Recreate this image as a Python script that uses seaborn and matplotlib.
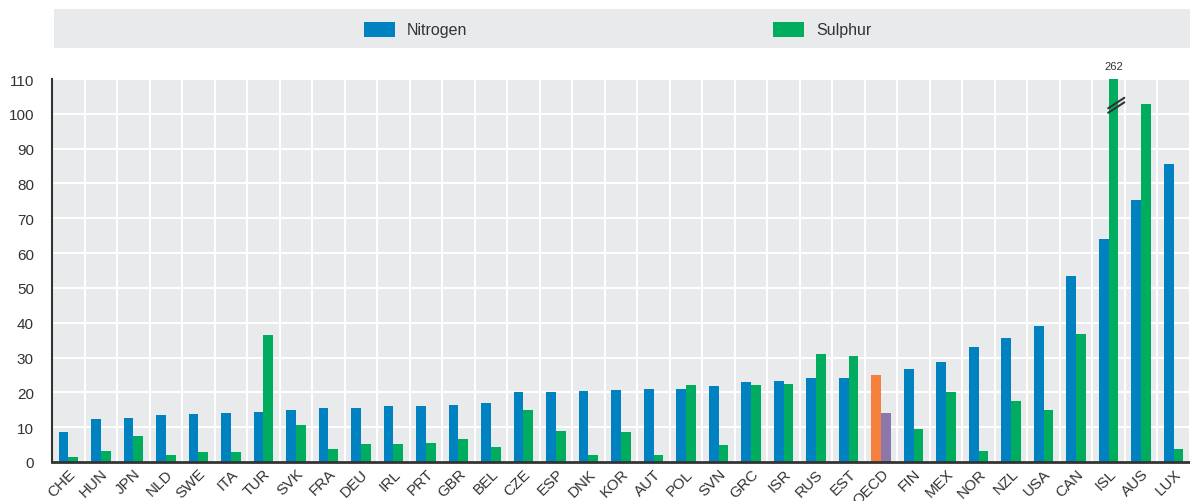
import matplotlib
matplotlib.use("Agg")
import matplotlib.patches as patches
import matplotlib.pyplot as plt
import numpy as np
import pandas as pd
import seaborn as sns

BLUE = "#0081c0"
GREEN = "#00ad5f"
OECD_N = "#f5803e"
OECD_S = "#8c77ad"
BG = "#e9eaec"
DARK = "#333333"

countries = ["CHE", "HUN", "JPN", "NLD", "SWE", "ITA", "TUR", "SVK", "FRA", "DEU",
             "IRL", "PRT", "GBR", "BEL", "CZE", "ESP", "DNK", "KOR", "AUT", "POL",
             "SVN", "GRC", "ISR", "RUS", "EST", "OECD", "FIN", "MEX", "NOR", "NZL",
             "USA", "CAN", "ISL", "AUS", "LUX"]
nitrogen = [8.7, 12.3, 12.7, 13.5, 13.8, 14.0, 14.4, 15.0, 15.4, 15.4,
            16.0, 16.2, 16.5, 17.0, 20.0, 20.0, 20.5, 20.8, 21.1, 21.1,
            21.8, 23.0, 23.4, 24.1, 24.2, 25.1, 26.8, 28.8, 33.0, 35.6,
            39.0, 53.3, 64.1, 75.2, 85.5]
sulphur = [1.3, 3.2, 7.4, 2.0, 2.9, 3.0, 36.5, 10.7, 3.6, 5.2,
           5.1, 5.6, 6.6, 4.3, 15.0, 8.8, 2.1, 8.7, 1.9, 22.1,
           4.8, 22.0, 22.3, 31.0, 30.5, 14.2, 9.6, 20.1, 3.3, 17.5,
           14.9, 36.9, 262, 102.8, 3.6]
y_ticks = list(range(0, 111, 10))
Y_MAX = 110

df = pd.DataFrame({
    "country": countries * 2,
    "value": nitrogen + sulphur,
    "series": ["Nitrogen"] * len(countries) + ["Sulphur"] * len(countries),
})

sns.set_style("white")
plt.rcParams["font.family"] = ["Liberation Sans Narrow", "Liberation Sans", "DejaVu Sans"]

fig = plt.figure(figsize=(11.9, 5.02), dpi=100)
ax = fig.add_axes([52 / 1190, 39 / 502, 1 - 52 / 1190, 383 / 502])
ax.set_facecolor(BG)

sns.barplot(data=df, x="country", y="value", hue="series", order=countries,
            palette={"Nitrogen": BLUE, "Sulphur": GREEN}, width=0.6, gap=0,
            saturation=1, legend=False, linewidth=0, ax=ax)

# recolour the OECD average
i_oecd = countries.index("OECD")
ax.containers[0][i_oecd].set_facecolor(OECD_N)
ax.containers[1][i_oecd].set_facecolor(OECD_S)

ax.set_ylim(0, Y_MAX)
ax.set_xlim(-0.5, len(countries) - 0.5)
ax.set_yticks(y_ticks)
ax.set_xlabel("")
ax.set_ylabel("")

# grid: horizontal at ticks, vertical at category boundaries
ax.set_xticks(np.arange(-0.5, len(countries)), minor=True)
ax.grid(axis="y", color="white", linewidth=1.5)
ax.grid(axis="x", which="minor", color="white", linewidth=1.5)
ax.set_axisbelow(True)

for s in ["top", "right"]:
    ax.spines[s].set_visible(False)
ax.spines["left"].set_color(DARK)
ax.spines["left"].set_linewidth(1.5)
ax.spines["bottom"].set_color(DARK)
ax.spines["bottom"].set_linewidth(2)

ax.tick_params(axis="x", which="major", length=0, pad=3)
ax.tick_params(axis="x", which="minor", direction="in", length=5, width=1.5, color=DARK)
ax.tick_params(axis="y", direction="out", length=5, width=1.2, color=DARK,
               labelsize=11, labelcolor=DARK, pad=8)
for lab in ax.get_xticklabels():
    lab.set_rotation(45)
    lab.set_ha("right")
    lab.set_rotation_mode("anchor")
    lab.set_fontsize(11)
    lab.set_color(DARK)

# ISL: clipped bar with break mark and true value
i_isl = countries.index("ISL")
bar = ax.containers[1][i_isl]
x0 = bar.get_x()
w = bar.get_width()
for dy in [0, 1.3]:
    ax.plot([x0 - 0.05 * w, x0 + 1.6 * w], [100.3 + dy, 103.3 + dy],
            color=DARK, linewidth=1.5, clip_on=False, zorder=5)
ax.text(x0 + w / 2, Y_MAX + 2.2, f"{sulphur[i_isl]:g}", ha="center", va="bottom",
        fontsize=8, color=DARK, clip_on=False)

# legend band
fig.patches.append(patches.Rectangle((54 / 1190, 1 - 49 / 502), 1 - 54 / 1190, 39 / 502,
                                     transform=fig.transFigure, facecolor=BG,
                                     edgecolor="none", zorder=0))
for x_sw, label, col in [(364, "Nitrogen", BLUE), (773, "Sulphur", GREEN)]:
    fig.patches.append(patches.Rectangle((x_sw / 1190, 1 - 38 / 502), 31 / 1190, 15 / 502,
                                         transform=fig.transFigure, facecolor=col,
                                         edgecolor="none", zorder=1))
    fig.text((x_sw + 43) / 1190, 1 - 30.5 / 502, label, ha="left", va="center",
             fontsize=11.5, color=DARK)

fig.savefig("out.png", dpi=100)
